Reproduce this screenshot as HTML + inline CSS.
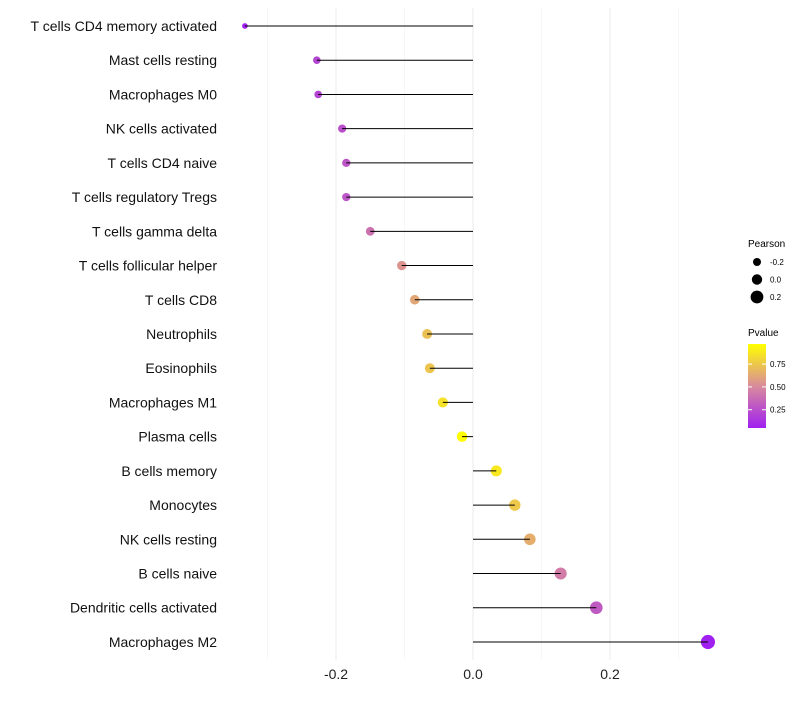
<!DOCTYPE html>
<html><head><meta charset="utf-8"><style>
body{margin:0;background:#fff;font-family:"Liberation Sans",sans-serif}
svg text{font-family:"Liberation Sans",sans-serif}
</style></head><body>
<svg id="c" width="800" height="700">
<defs><linearGradient id="pg" x1="0" y1="1" x2="0" y2="0">
<stop offset="0" stop-color="#a020f0"/><stop offset="0.5" stop-color="#d98b9c"/><stop offset="1" stop-color="#ffff00"/></linearGradient></defs>
<g id="grid"></g><g id="dots"></g><g id="marks"></g><g id="labels"></g>
<g>
<text x="748" y="247" font-size="10">Pearson</text>
<g id="sleg"></g>
</g>
<g>
<text x="748" y="336" font-size="10">Pvalue</text>
<rect x="748" y="344" width="18" height="84" fill="url(#pg)"/>
<g id="cleg"></g>
</g>
</svg>
<script>
const cells=["T cells CD4 memory activated","Mast cells resting","Macrophages M0","NK cells activated","T cells CD4 naive","T cells regulatory  Tregs","T cells gamma delta","T cells follicular helper","T cells CD8","Neutrophils","Eosinophils","Macrophages M1","Plasma cells","B cells memory","Monocytes","NK cells resting","B cells naive","Dendritic cells activated","Macrophages M2"];
const pearson=[-0.333,-0.228,-0.226,-0.191,-0.185,-0.185,-0.150,-0.104,-0.085,-0.067,-0.063,-0.044,-0.016,0.034,0.061,0.083,0.128,0.180,0.343];
const pvalue=[0.06,0.21,0.21,0.25,0.28,0.28,0.4,0.55,0.62,0.72,0.74,0.85,0.97,0.88,0.75,0.65,0.45,0.3,0.05];
const xTicks=[-0.2,0.0,0.2];
const xTickLabels=["-0.2","0.0","0.2"];
const sizeBreaks=[-0.2,0.0,0.2];
const colorBreaks=[0.25,0.5,0.75];
const NS="http://www.w3.org/2000/svg";
const PMIN=0.05,PMAX=0.97;
const X=v=>473+v*685;
const Y=i=>26+i*34.22;
const R=v=>Math.sqrt(Math.max(2,14.5+(v+0.228)*62));
function hex(h){return [parseInt(h.slice(1,3),16),parseInt(h.slice(3,5),16),parseInt(h.slice(5,7),16)];}
const stops=[hex("#a020f0"),hex("#d98b9c"),hex("#ffff00")];
const C=p=>{let t=Math.max(0,Math.min(1,(p-PMIN)/(PMAX-PMIN)));let a,b,u;if(t<0.5){a=stops[0];b=stops[1];u=t*2}else{a=stops[1];b=stops[2];u=(t-0.5)*2}return "rgb("+a.map((x,k)=>Math.round(x+(b[k]-x)*u)).join(",")+")";};
function el(t,at,p){const e=document.createElementNS(NS,t);for(const k in at)e.setAttribute(k,at[k]);p.appendChild(e);return e;}
const grid=document.getElementById("grid"),marks=document.getElementById("marks"),dots=document.getElementById("dots"),labels=document.getElementById("labels");
[-0.3,-0.1,0.1,0.3].forEach(v=>{const l=el("line",{x1:X(v),x2:X(v),y1:8,y2:660,stroke:"#f2f2f2","stroke-width":0.6},grid);});
xTicks.forEach((v,i)=>{const l=el("line",{x1:X(v),x2:X(v),y1:8,y2:660,stroke:"#ebebeb","stroke-width":1},grid);
const t=el("text",{x:X(v),y:679,"font-size":14,"text-anchor":"middle",fill:"#222"},labels);t.textContent=xTickLabels[i];});
cells.forEach((c,i)=>{const y=Y(i);
const d=el("circle",{cx:X(pearson[i]),cy:y,r:R(pearson[i]),fill:C(pvalue[i])},dots);
const l=el("line",{x1:X(0),x2:X(pearson[i]),y1:y,y2:y,stroke:"#000","stroke-width":1},marks);
const t=el("text",{x:217,y:y+5,"font-size":14,"text-anchor":"end",fill:"#111"},labels);t.textContent=c;});
const sleg=document.getElementById("sleg");
sizeBreaks.forEach((v,i)=>{const y=262+i*17.5;const d=el("circle",{cx:757,cy:y,r:4+i*1.2,fill:"#000"},sleg);
const t=el("text",{x:770,y:y+3,"font-size":8},sleg);t.textContent=v.toFixed(1);});
const cleg=document.getElementById("cleg");
colorBreaks.forEach(v=>{const y=428-(v-PMIN)/(PMAX-PMIN)*84;
const l=el("line",{x1:748,x2:752,y1:y,y2:y,stroke:"#fff"},cleg);
const l2=el("line",{x1:762,x2:766,y1:y,y2:y,stroke:"#fff"},cleg);
const t=el("text",{x:770,y:y+3,"font-size":8},cleg);t.textContent=v.toFixed(2);});
</script>
</body></html>
